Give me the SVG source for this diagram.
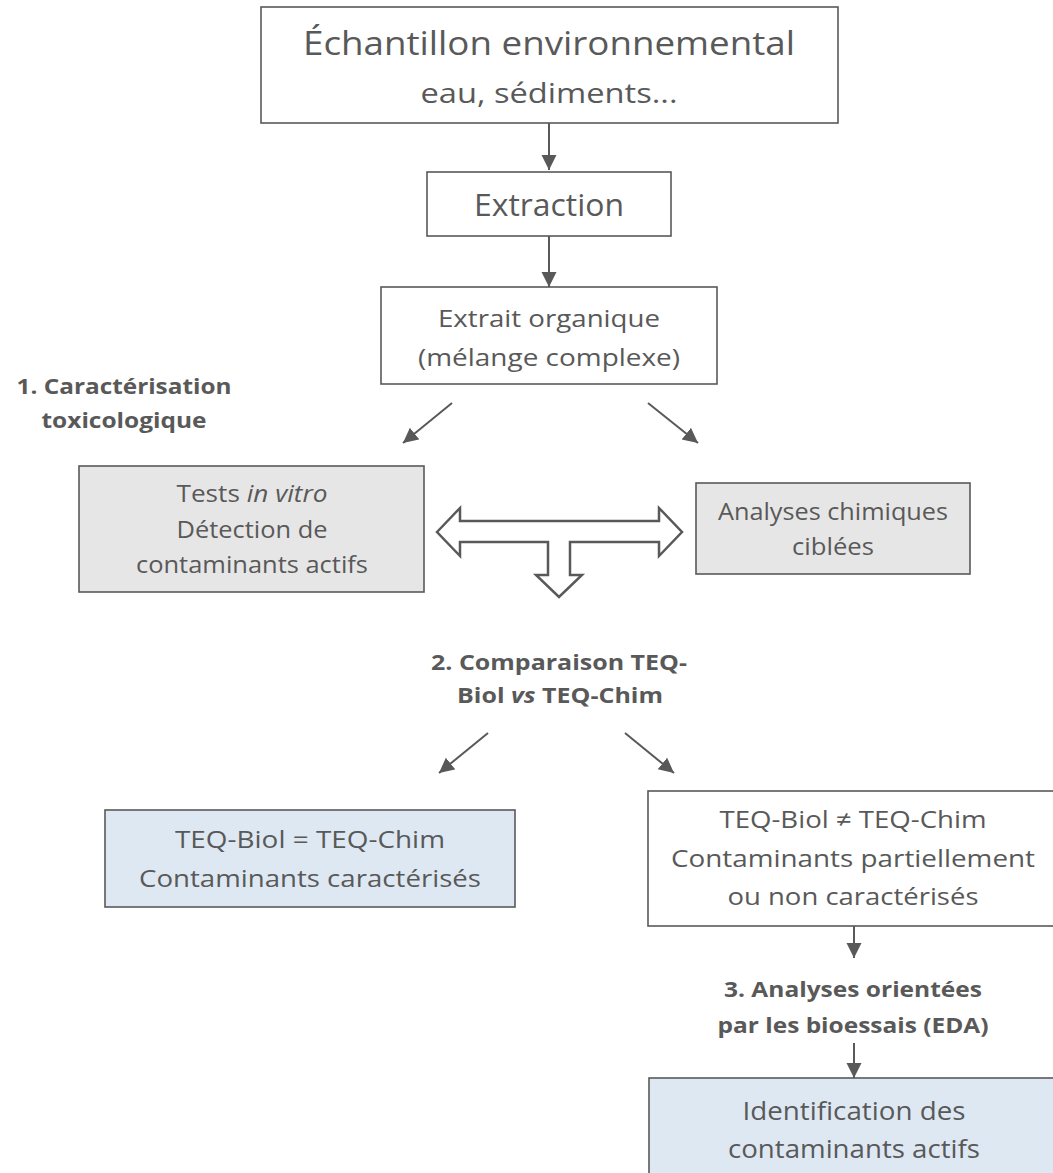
<svg xmlns="http://www.w3.org/2000/svg" width="1053" height="1173" viewBox="0 0 1053 1173">
<defs>
<marker id="ah" markerUnits="userSpaceOnUse" markerWidth="16" markerHeight="16" refX="15" refY="7.5" orient="auto" viewBox="0 0 16 16">
<path d="M0,0 L15,7.5 L0,15 z" fill="#595959"/>
</marker>
<style>
.box{fill:#ffffff;stroke:#595959;stroke-width:1.6}
.grey{fill:#e7e6e6}
.blue{fill:#dee8f3}
.t{font-family:"Open Sans","Noto Sans","DejaVu Sans",sans-serif;fill:#595959;text-anchor:middle}
.b{font-weight:bold}
.c{stroke:#595959;stroke-width:2;fill:none;marker-end:url(#ah)}
.blk{fill:#ffffff;stroke:#595959;stroke-width:2.5;stroke-linejoin:miter}
</style>
</defs>
<rect width="1053" height="1173" fill="#ffffff"/>

<g id="echantillon">
<rect class="box" x="261" y="7" width="577" height="116"/>
<text class="t" x="549" y="55" font-size="33" textLength="492" lengthAdjust="spacingAndGlyphs">Échantillon environnemental</text>
<text class="t" x="549" y="103" font-size="28" textLength="257" lengthAdjust="spacingAndGlyphs">eau, sédiments...</text>
</g>

<g id="extraction">
<rect class="box" x="427" y="172" width="244" height="64"/>
<text class="t" x="549" y="216" font-size="31" textLength="150" lengthAdjust="spacingAndGlyphs">Extraction</text>
</g>

<g id="extrait">
<rect class="box" x="381" y="287" width="336" height="97"/>
<text class="t" x="549" y="327" font-size="24" textLength="222" lengthAdjust="spacingAndGlyphs">Extrait organique</text>
<text class="t" x="549" y="366" font-size="24" textLength="262" lengthAdjust="spacingAndGlyphs">(mélange complexe)</text>
</g>

<g id="label1">
<text class="t b" x="124" y="394" font-size="21" textLength="215" lengthAdjust="spacingAndGlyphs">1. Caractérisation</text>
<text class="t b" x="124" y="428" font-size="21" textLength="165" lengthAdjust="spacingAndGlyphs">toxicologique</text>
</g>

<g id="tests">
<rect class="box grey" x="79" y="466" width="345" height="126"/>
<text class="t" x="252" y="502" font-size="24" textLength="151" lengthAdjust="spacingAndGlyphs">Tests <tspan font-style="italic">in vitro</tspan></text>
<text class="t" x="252" y="538" font-size="24" textLength="151" lengthAdjust="spacingAndGlyphs">Détection de</text>
<text class="t" x="252" y="573" font-size="24" textLength="232" lengthAdjust="spacingAndGlyphs">contaminants actifs</text>
</g>

<g id="analyses">
<rect class="box grey" x="696" y="483" width="274" height="91"/>
<text class="t" x="833" y="520" font-size="24" textLength="230" lengthAdjust="spacingAndGlyphs">Analyses chimiques</text>
<text class="t" x="833" y="555" font-size="24" textLength="82" lengthAdjust="spacingAndGlyphs">ciblées</text>
</g>

<g id="label2">
<text class="t b" x="559" y="670" font-size="21" textLength="256" lengthAdjust="spacingAndGlyphs">2. Comparaison TEQ-</text>
<text class="t b" x="560" y="703" font-size="21" textLength="206" lengthAdjust="spacingAndGlyphs">Biol <tspan font-style="italic">vs</tspan> TEQ-Chim</text>
</g>

<g id="teq-egal">
<rect class="box blue" x="105" y="810" width="410" height="97"/>
<text class="t" x="310" y="848" font-size="24" textLength="270" lengthAdjust="spacingAndGlyphs">TEQ-Biol = TEQ-Chim</text>
<text class="t" x="310" y="887" font-size="24" textLength="342" lengthAdjust="spacingAndGlyphs">Contaminants caractérisés</text>
</g>

<g id="teq-different">
<rect class="box" x="648" y="791" width="420" height="135"/>
<text class="t" x="853" y="828" font-size="24" textLength="267" lengthAdjust="spacingAndGlyphs">TEQ-Biol ≠ TEQ-Chim</text>
<text class="t" x="853" y="867" font-size="24" textLength="364" lengthAdjust="spacingAndGlyphs">Contaminants partiellement</text>
<text class="t" x="853" y="905" font-size="24" textLength="251" lengthAdjust="spacingAndGlyphs">ou non caractérisés</text>
</g>

<g id="label3">
<text class="t b" x="853" y="997" font-size="21" textLength="258" lengthAdjust="spacingAndGlyphs">3. Analyses orientées</text>
<text class="t b" x="853" y="1033" font-size="21" textLength="271" lengthAdjust="spacingAndGlyphs">par les bioessais (EDA)</text>
</g>

<g id="identification">
<rect class="box blue" x="649" y="1078" width="420" height="110"/>
<text class="t" x="854" y="1120" font-size="26" textLength="223" lengthAdjust="spacingAndGlyphs">Identification des</text>
<text class="t" x="854" y="1158" font-size="26" textLength="252" lengthAdjust="spacingAndGlyphs">contaminants actifs</text>
</g>

<g id="connectors">
<line class="c" x1="549" y1="123" x2="549" y2="170"/>
<line class="c" x1="549" y1="236" x2="549" y2="287"/>
<line class="c" x1="452" y1="403" x2="403" y2="443"/>
<line class="c" x1="648" y1="403" x2="698" y2="443"/>
<line class="c" x1="488" y1="733" x2="439" y2="773"/>
<line class="c" x1="625" y1="733" x2="674" y2="773"/>
<line class="c" x1="854" y1="926" x2="854" y2="958"/>
<line class="c" x1="854" y1="1043" x2="854" y2="1078"/>
<polygon class="blk" points="437,532 460,508 460,521 659,521 659,508 682,532 659,556 659,542 570,542 570,575 582,575 559,597 536,575 548,575 548,542 460,542 460,556"/>
</g>
</svg>
